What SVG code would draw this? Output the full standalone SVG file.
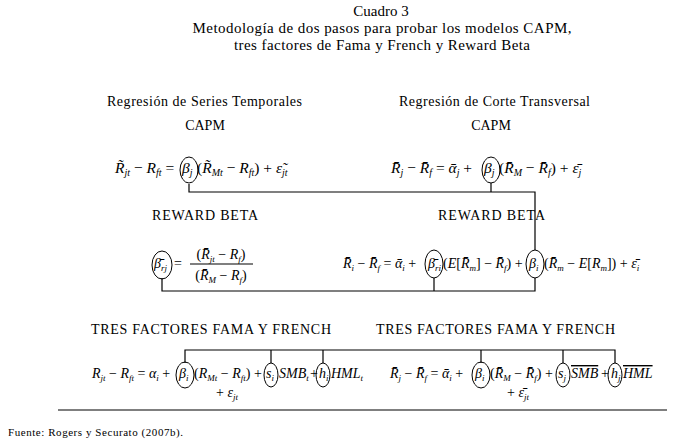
<svg xmlns="http://www.w3.org/2000/svg" width="685" height="443" viewBox="0 0 685 443">
<style>
text{font-family:"Liberation Serif","Times New Roman",serif;fill:#000}
.t{font-size:15px}
.h{font-size:14px}
.e{font-size:14px}
.e2{font-size:15.5px}
.i{font-style:italic}
.s{font-size:9px;font-style:italic}
.s2{font-size:10px;font-style:italic}
.src{font-size:11px}
.el{fill:none;stroke:#000;stroke-width:1}
.c{fill:none;stroke:#000;stroke-width:1.2}
.ol{text-decoration:overline}
</style>
<rect width="685" height="443" fill="#fff"/>
<g id="title">
<text class="t" x="381" y="16" text-anchor="middle">Cuadro 3</text>
<text class="t" x="382" y="33" text-anchor="middle" textLength="379">Metodología de dos pasos para probar los modelos CAPM,</text>
<text class="t" x="382" y="50" text-anchor="middle" textLength="296">tres factores de Fama y French y Reward Beta</text>
</g>
<g id="head-ts">
<text class="h" x="107" y="106" textLength="195">Regresión de Series Temporales</text>
<text class="h" x="205" y="130" text-anchor="middle">CAPM</text>
</g>
<g id="head-cs">
<text class="h" x="399" y="106" textLength="191">Regresión de Corte Transversal</text>
<text class="h" x="491" y="130" text-anchor="middle">CAPM</text>
</g>
<g id="connectors">
<path class="c" d="M189,184 V192 H535 V250"/>
<path class="c" d="M491,183 V192"/>
<path class="c" d="M162,278 V291 H535 V278"/>
<path class="c" d="M434,278 V291"/>
<path class="c" d="M185,363 V350 H615 V363"/>
<path class="c" d="M271,363 V350"/>
<path class="c" d="M323,363 V350"/>
<path class="c" d="M481,363 V350"/>
<path class="c" d="M563,363 V350"/>
</g>
<g id="eq-capm-ts">
<text class="e2" x="115" y="173"><tspan class="i">R&#771;</tspan><tspan class="s2" dy="3">jt</tspan><tspan dy="-3"> − </tspan><tspan class="i">R</tspan><tspan class="s2" dy="3">ft</tspan><tspan dy="-3"> =</tspan></text>
<ellipse class="el" cx="189" cy="170" rx="9" ry="13"/>
<text class="e2" x="182" y="173"><tspan class="i">β</tspan><tspan class="s2" dy="3">j</tspan></text>
<text class="e2" x="197" y="173">(<tspan class="i">R&#771;</tspan><tspan class="s2" dy="3">Mt</tspan><tspan dy="-3"> − </tspan><tspan class="i">R</tspan><tspan class="s2" dy="3">ft</tspan><tspan dy="-3">) + </tspan><tspan class="i">ε&#771;</tspan><tspan class="s2" dy="3">jt</tspan></text>
</g>
<g id="eq-capm-cs">
<text class="e2" x="391" y="173"><tspan class="i">R&#772;</tspan><tspan class="s2" dy="3">j</tspan><tspan dy="-3"> − </tspan><tspan class="i">R&#772;</tspan><tspan class="s2" dy="3">f</tspan><tspan dy="-3"> = </tspan><tspan class="i">α&#772;</tspan><tspan class="s2" dy="3">j</tspan><tspan dy="-3"> +</tspan></text>
<ellipse class="el" cx="491" cy="170" rx="9" ry="13"/>
<text class="e2" x="484" y="173"><tspan class="i">β</tspan><tspan class="s2" dy="3">j</tspan></text>
<text class="e2" x="499" y="173">(<tspan class="i">R&#772;</tspan><tspan class="s2" dy="3">M</tspan><tspan dy="-3"> − </tspan><tspan class="i">R&#772;</tspan><tspan class="s2" dy="3">f</tspan><tspan dy="-3">) + </tspan><tspan class="i">ε&#772;</tspan><tspan class="s2" dy="3">j</tspan></text>
</g>
<g id="head-rb-left">
<text class="h" x="152" y="220" textLength="106">REWARD BETA</text>
</g>
<g id="head-rb-right">
<text class="h" x="438" y="220" textLength="107">REWARD BETA</text>
</g>
<g id="eq-rb-left">
<ellipse class="el" cx="162" cy="265" rx="10" ry="14"/>
<text class="e" x="154" y="268"><tspan class="i">β&#772;</tspan><tspan class="s" dy="3">rj</tspan></text>
<text class="e" x="174" y="268">=</text>
<text class="e" x="221" y="259" text-anchor="middle">(<tspan class="i">R&#772;</tspan><tspan class="s" dy="3">jt</tspan><tspan dy="-3"> − </tspan><tspan class="i">R</tspan><tspan class="s" dy="3">f</tspan><tspan dy="-3">)</tspan></text>
<line class="c" x1="190" y1="264" x2="253" y2="264"/>
<text class="e" x="221" y="280" text-anchor="middle">(<tspan class="i">R&#772;</tspan><tspan class="s" dy="3">M</tspan><tspan dy="-3"> − </tspan><tspan class="i">R</tspan><tspan class="s" dy="3">f</tspan><tspan dy="-3">)</tspan></text>
</g>
<g id="eq-rb-right">
<text class="e" x="343" y="268"><tspan class="i">R&#772;</tspan><tspan class="s" dy="3">i</tspan><tspan dy="-3"> − </tspan><tspan class="i">R&#772;</tspan><tspan class="s" dy="3">f</tspan><tspan dy="-3"> = </tspan><tspan class="i">α&#772;</tspan><tspan class="s" dy="3">i</tspan><tspan dy="-3"> +</tspan></text>
<ellipse class="el" cx="434" cy="264" rx="9" ry="14"/>
<text class="e" x="428" y="268"><tspan class="i">β&#772;</tspan><tspan class="s" dy="3">ri</tspan></text>
<text class="e" x="443" y="268">(<tspan class="i">E</tspan>[<tspan class="i">R&#772;</tspan><tspan class="s" dy="3">m</tspan><tspan dy="-3">] − </tspan><tspan class="i">R&#772;</tspan><tspan class="s" dy="3">f</tspan><tspan dy="-3">) +</tspan></text>
<ellipse class="el" cx="535" cy="264" rx="9" ry="14"/>
<text class="e" x="529" y="268"><tspan class="i">β</tspan><tspan class="s" dy="3">i</tspan></text>
<text class="e" x="544" y="268">(<tspan class="i">R&#772;</tspan><tspan class="s" dy="3">m</tspan><tspan dy="-3"> − </tspan><tspan class="i">E</tspan>[<tspan class="i">R</tspan><tspan class="s" dy="3">m</tspan><tspan dy="-3">]) + </tspan><tspan class="i">ε&#772;</tspan><tspan class="s" dy="3">i</tspan></text>
</g>
<g id="head-ff-left">
<text class="h" x="91" y="334" textLength="240">TRES FACTORES FAMA Y FRENCH</text>
</g>
<g id="head-ff-right">
<text class="h" x="376" y="334" textLength="239">TRES FACTORES FAMA Y FRENCH</text>
</g>
<g id="eq-ff-left">
<text class="e" x="92" y="378"><tspan class="i">R</tspan><tspan class="s" dy="3">jt</tspan><tspan dy="-3"> − </tspan><tspan class="i">R</tspan><tspan class="s" dy="3">ft</tspan><tspan dy="-3"> = </tspan><tspan class="i">α</tspan><tspan class="s" dy="3">i</tspan><tspan dy="-3"> +</tspan></text>
<ellipse class="el" cx="185" cy="375" rx="9" ry="13"/>
<text class="e" x="179" y="378"><tspan class="i">β</tspan><tspan class="s" dy="3">i</tspan></text>
<text class="e" x="194" y="378">(<tspan class="i">R</tspan><tspan class="s" dy="3">Mt</tspan><tspan dy="-3"> − </tspan><tspan class="i">R</tspan><tspan class="s" dy="3">ft</tspan><tspan dy="-3">) +</tspan></text>
<ellipse class="el" cx="271" cy="375" rx="7" ry="12"/>
<text class="e" x="266" y="378"><tspan class="i">s</tspan><tspan class="s" dy="3">i</tspan></text>
<text class="e" x="279" y="378"><tspan class="i">SMB</tspan><tspan class="s" dy="3">t</tspan></text>
<text class="e" x="310" y="378">+</text>
<ellipse class="el" cx="323" cy="375" rx="7" ry="12"/>
<text class="e" x="319" y="378"><tspan class="i">h</tspan><tspan class="s" dy="3">i</tspan></text>
<text class="e" x="331" y="378"><tspan class="i">HML</tspan><tspan class="s" dy="3">t</tspan></text>
<text class="e" x="216" y="397">+ <tspan class="i">ε</tspan><tspan class="s" dy="3">jt</tspan></text>
</g>
<g id="eq-ff-right">
<text class="e" x="390" y="378"><tspan class="i">R&#772;</tspan><tspan class="s" dy="3">j</tspan><tspan dy="-3"> − </tspan><tspan class="i">R&#772;</tspan><tspan class="s" dy="3">f</tspan><tspan dy="-3"> = </tspan><tspan class="i">α&#772;</tspan><tspan class="s" dy="3">i</tspan><tspan dy="-3"> +</tspan></text>
<ellipse class="el" cx="481" cy="375" rx="9" ry="13"/>
<text class="e" x="475" y="378"><tspan class="i">β</tspan><tspan class="s" dy="3">i</tspan></text>
<text class="e" x="490" y="378">(<tspan class="i">R&#772;</tspan><tspan class="s" dy="3">M</tspan><tspan dy="-3"> − </tspan><tspan class="i">R&#772;</tspan><tspan class="s" dy="3">f</tspan><tspan dy="-3">) +</tspan></text>
<ellipse class="el" cx="563" cy="375" rx="7" ry="12"/>
<text class="e" x="558" y="378"><tspan class="i">s</tspan><tspan class="s" dy="3">j</tspan></text>
<text class="e i ol" x="571" y="378">SMB</text>
<text class="e" x="601" y="378">+</text>
<ellipse class="el" cx="615" cy="375" rx="7" ry="12"/>
<text class="e" x="611" y="378"><tspan class="i">h</tspan><tspan class="s" dy="3">j</tspan></text>
<text class="e i ol" x="623" y="378">HML</text>
<text class="e" x="507" y="397">+ <tspan class="i">ε&#772;</tspan><tspan class="s" dy="3">jt</tspan></text>
</g>
<g id="footer">
<line class="c" x1="58" y1="410" x2="667" y2="410"/>
<text class="src" x="8" y="436" textLength="175">Fuente: Rogers y Securato (2007b).</text>
</g>
</svg>
